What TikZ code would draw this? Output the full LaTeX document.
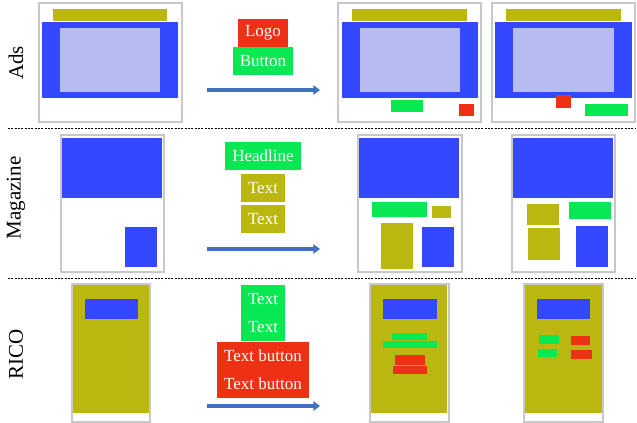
\documentclass[tikz,border=0pt]{standalone}
\usepackage{fontspec}
\setmainfont{Liberation Serif}
\usetikzlibrary{arrows.meta}
\definecolor{mkolive}{RGB}{187,183,17}
\definecolor{mkblue}{RGB}{52,72,255}
\definecolor{mklight}{RGB}{182,187,240}
\definecolor{mkred}{RGB}{238,48,20}
\definecolor{mkgreen}{RGB}{8,232,83}
\definecolor{arrowblue}{RGB}{66,112,192}
\definecolor{framegray}{RGB}{200,200,200}
\tikzset{
  frame/.style={draw=framegray, line width=0.9pt, fill=white},
  lbl/.style={inner sep=0pt, text=white, align=center, font=\fontsize{12.75}{21}\selectfont},
  rowname/.style={rotate=90, font=\fontsize{15.75}{18}\selectfont},
  sep/.style={line width=0.6pt, dash pattern=on 1.5pt off 1pt},
  go/.style={draw=arrowblue, line width=2.8pt, -{Triangle[length=5pt,width=7pt]}},
}
\begin{document}
\begin{tikzpicture}[x=0.75pt,y=-0.75pt]
\useasboundingbox (0,0) rectangle (637,423);

% row names
\path (16,63) node[rowname](ads){Ads} (16,198) node[rowname](magazine){Magazine} (16,354) node[rowname](rico){RICO};

% separators
\draw[sep] (8,128) -- (635,128);
\draw[sep] (8,278) -- (635,278);

% Ads: input
\draw[frame] (39,3) rectangle (182,122);
\fill[mkolive] (53,9) rectangle (167,21);
\fill[mkblue] (42,22) rectangle (178,98);
\fill[mklight] (60,28) rectangle (160,92);
\path (263,33) node[lbl,fill=mkred,minimum width=37.5pt,minimum height=21pt](logo){Logo}
      (263,61) node[lbl,fill=mkgreen,minimum width=45pt,minimum height=21pt](button){Button};
\coordinate (adsfrom) at (207,90);
\coordinate (adsto) at (320,90);
\draw[go] (adsfrom) -- (adsto);
% Ads: outputs
\draw[frame] (338,3) rectangle (481,122);
\fill[mkolive] (352,9) rectangle (467,21);
\fill[mkblue] (342,22) rectangle (478,98);
\fill[mklight] (360,28) rectangle (460,92);
\fill[mkgreen] (391,100) rectangle (423,112);
\fill[mkred] (459,104) rectangle (474,116);
\draw[frame] (492,3) rectangle (635,122);
\fill[mkolive] (506,9) rectangle (621,21);
\fill[mkblue] (495,22) rectangle (632,98);
\fill[mklight] (513,28) rectangle (614,92);
\fill[mkred] (556,95) rectangle (571,108);
\fill[mkgreen] (585,104) rectangle (628,116);

% Magazine: input
\draw[frame] (61,135) rectangle (164,272);
\fill[mkblue] (62,138) rectangle (162,198);
\fill[mkblue] (125,227) rectangle (157,267);
\path (263,156) node[lbl,fill=mkgreen,minimum width=57pt,minimum height=21pt](headline){Headline}
      (263,188) node[lbl,fill=mkolive,minimum width=33pt,minimum height=20.5pt](text1){Text}
      (263,219) node[lbl,fill=mkolive,minimum width=33pt,minimum height=21pt](text2){Text};
\coordinate (magfrom) at (207,249);
\coordinate (magto) at (320,249);
\draw[go] (magfrom) -- (magto);
% Magazine: outputs
\draw[frame] (358,135) rectangle (462,272);
\fill[mkblue] (359,138) rectangle (459,198);
\fill[mkgreen] (372,202) rectangle (427,217);
\fill[mkolive] (432,206) rectangle (451,218);
\fill[mkolive] (381,223) rectangle (413,269);
\fill[mkblue] (422,227) rectangle (454,267);
\draw[frame] (512,135) rectangle (615,272);
\fill[mkblue] (513,138) rectangle (613,198);
\fill[mkolive] (527,204) rectangle (559,225);
\fill[mkgreen] (569,202) rectangle (611,219);
\fill[mkolive] (528,228) rectangle (560,260);
\fill[mkblue] (576,226) rectangle (608,267);

% RICO: input
\draw[frame] (72,284) rectangle (150,422);
\fill[mkolive] (73,285) rectangle (149,413);
\fill[mkblue] (85,299) rectangle (138,319);
\path (263,313) node[lbl,fill=mkgreen,minimum width=33pt,minimum height=42pt](texts){Text\\Text}
      (263,370) node[lbl,fill=mkred,minimum width=69pt,minimum height=42pt](textbuttons){Text button\\Text button};
\coordinate (ricofrom) at (207,406);
\coordinate (ricoto) at (320,406);
\draw[go] (ricofrom) -- (ricoto);
% RICO: outputs
\draw[frame] (370,284) rectangle (449,422);
\fill[mkolive] (371,285) rectangle (447,413);
\fill[mkblue] (383,299) rectangle (437,319);
\fill[mkgreen] (392,333) rectangle (427,340);
\fill[mkgreen] (383,341) rectangle (437,348);
\fill[mkred] (395,355) rectangle (425,365);
\fill[mkred] (393,366) rectangle (427,374);
\draw[frame] (524,284) rectangle (603,422);
\fill[mkolive] (525,285) rectangle (602,413);
\fill[mkblue] (537,299) rectangle (590,319);
\fill[mkgreen] (539,335) rectangle (559,344);
\fill[mkgreen] (538,349) rectangle (557,357);
\fill[mkred] (571,336) rectangle (590,345);
\fill[mkred] (571,350) rectangle (592,359);
\end{tikzpicture}
\end{document}
